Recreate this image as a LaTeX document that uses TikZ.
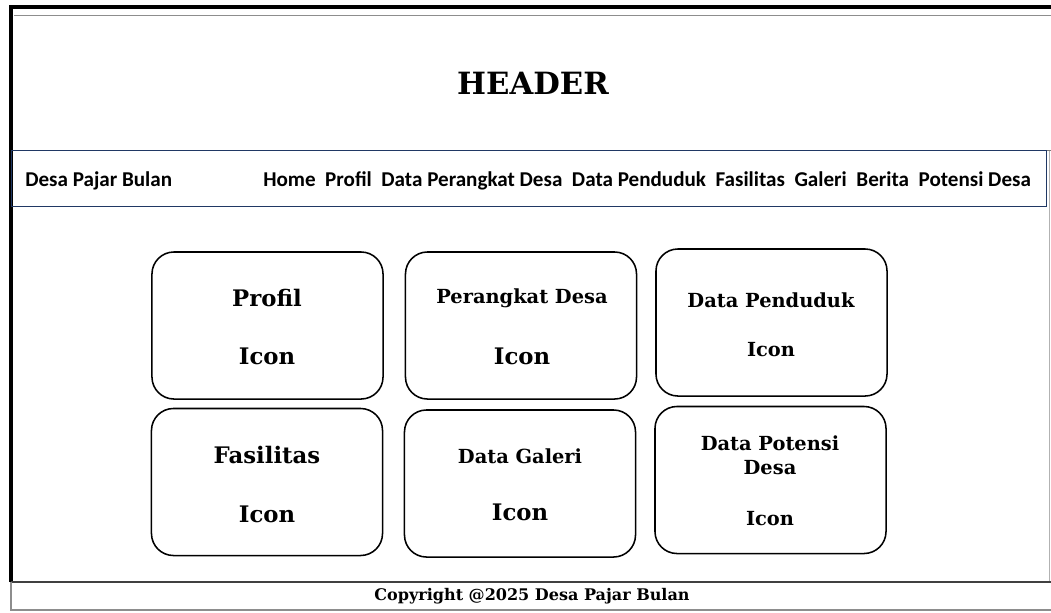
\documentclass[tikz,border=0pt]{standalone}
\usepackage{fontspec}
\setmainfont{DejaVu Serif}
\newfontfamily\navfont{Carlito}
\definecolor{navblue}{HTML}{203864}
\definecolor{framegray}{HTML}{404040}
\begin{document}
\begin{tikzpicture}[x=0.025cm,y=-0.025cm,
    card/.style={draw=black,line width=1.1pt,rounded corners=0.55cm,
      minimum width=5.775cm,minimum height=3.675cm,inner sep=0pt},
    bigtxt/.style={font=\bfseries\fontsize{16.2}{19}\selectfont},
    smalltxt/.style={font=\bfseries\fontsize{13.8}{17}\selectfont,align=center},
    navtxt/.style={font=\navfont\bfseries\fontsize{15}{18}\selectfont,anchor=base west,inner sep=0pt}]
  \useasboundingbox (0,0) rectangle (1051,612);
  % frame
  \draw[line width=2.2pt] (11,582) -- (11,7) -- (1051,7);
  \draw[framegray!60,line width=0.6pt] (14,15) -- (1051,15);
  \draw[framegray!40,line width=0.6pt] (1049,150) -- (1049,582);
  \draw[framegray!70,line width=0.6pt] (1046,150) -- (1051,150);
  % header
  \node[font=\bfseries\fontsize{21.8}{24}\selectfont] (header) at (533,83) {HEADER};
  % menu bar
  \node[draw=navblue,line width=0.9pt,minimum width=25.85cm,minimum height=1.4cm,
    inner sep=0pt] (menubar) at (529,178.5) {};
  \node[navtxt] (brand) at (25,186) {Desa Pajar Bulan};
  \node[navtxt] (menu) at (263,186)
    {Home\ \ Profil\ \ Data Perangkat Desa\ \ Data Penduduk\ \ Fasilitas\ \ Galeri\ \ Berita\ \ Potensi Desa};
  % cards
  \node[card] (profil) at (267.5,325.5) {};
  \node[card] (perangkat) at (521,325.5) {};
  \node[card] (penduduk) at (771.5,322.5) {};
  \node[card] (fasilitas) at (267,482) {};
  \node[card] (galeri) at (520,483.5) {};
  \node[card] (potensi) at (770.5,480) {};
  \node[bigtxt] (profilT) at (267,298) {Profil};
  \node[bigtxt] (profilI) at (267,356) {Icon};
  \node[smalltxt] (perangkatT) at (522,298) {Perangkat Desa};
  \node[bigtxt] (perangkatI) at (522,356) {Icon};
  \node[smalltxt] (pendudukT) at (771,300) {Data Penduduk};
  \node[smalltxt] (pendudukI) at (771,350) {Icon};
  \node[bigtxt] (fasilitasT) at (267,455) {Fasilitas};
  \node[bigtxt] (fasilitasI) at (267,514) {Icon};
  \node[smalltxt] (galeriT) at (520,456) {Data Galeri};
  \node[bigtxt] (galeriI) at (520,512) {Icon};
  \node[smalltxt] (potensiT) at (770,455) {Data Potensi\\Desa};
  \node[smalltxt] (potensiI) at (770,519) {Icon};
  % footer
  \draw[framegray,line width=1.4pt] (11,582) -- (1051,582);
  \draw[framegray!60,line width=0.8pt] (11,582) -- (11,610) -- (1051,610);
  \node[font=\bfseries\fontsize{11.4}{13}\selectfont] (footer) at (532,596) {Copyright @2025 Desa Pajar Bulan};
\end{tikzpicture}
\end{document}
